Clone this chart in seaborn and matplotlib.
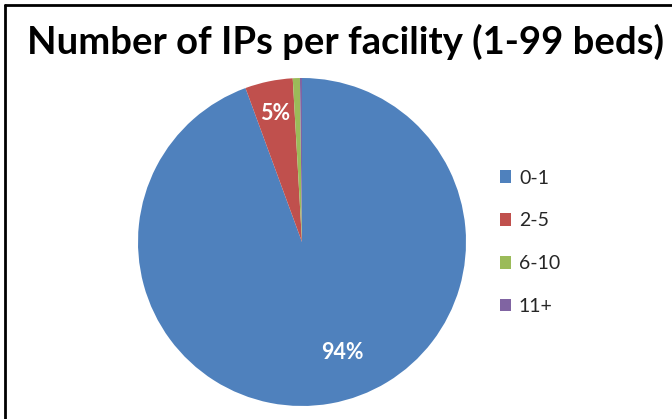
import matplotlib
matplotlib.use("Agg")
import matplotlib.pyplot as plt
from matplotlib.lines import Line2D
from matplotlib.patches import Patch
import numpy as np
import seaborn as sns

categories = ["0-1", "2-5", "6-10", "11+"]
values = [94.4, 4.7, 0.7, 0.2]
colors = ["#4F81BD", "#C0504D", "#9BBB59", "#8064A2"]
title = "Number of IPs per facility (1-99 beds)"

sns.set_theme(style="white")
plt.rcParams['font.family'] = ['Lato', 'DejaVu Sans']

W, H = 672, 419
fig = plt.figure(figsize=(W / 100, H / 100), dpi=100)
fig.patch.set_facecolor("white")

cx, cy, r = 302, 242, 164
ax = fig.add_axes([(cx - r) / W, (H - cy - r) / H, 2 * r / W, 2 * r / H])

def fmt(p):
    return f"{p:.0f}%" if p >= 1 else ""

wedges, texts, autotexts = ax.pie(
    values, colors=colors, startangle=90, counterclock=False,
    autopct=fmt, pctdistance=0.8,
    wedgeprops=dict(linewidth=0),
    textprops=dict(color="white", fontsize=15.5, fontweight="bold"))

# place the large-slice label like the spreadsheet's best-fit placement
w0 = wedges[0]
ang = np.deg2rad((w0.theta1 + w0.theta2) / 2 + 10)
autotexts[0].set_position((0.72 * np.cos(ang), 0.72 * np.sin(ang)))

ax.set_xlim(-1, 1)
ax.set_ylim(-1, 1)
ax.set_aspect("equal")
ax.axis("off")

fig.text(346 / W, 1 - 42 / H, title, ha="center", va="center",
         fontsize=27.5, fontweight="bold", color="black")

handles = [Patch(facecolor=c, edgecolor="none") for c in colors]
fig.legend(handles, categories, loc="upper left",
           bbox_to_anchor=(482 / W, 1 - 152 / H), frameon=False,
           fontsize=14, handlelength=0.6, handleheight=0.6,
           handletextpad=0.4, labelspacing=1.33)

fig.add_artist(Line2D([5 / W, 5 / W], [0, 1 - 5 / H], color="black", linewidth=2, transform=fig.transFigure))
fig.add_artist(Line2D([5 / W, 1], [1 - 5 / H, 1 - 5 / H], color="black", linewidth=2, transform=fig.transFigure))

fig.savefig("out.png", dpi=100)
